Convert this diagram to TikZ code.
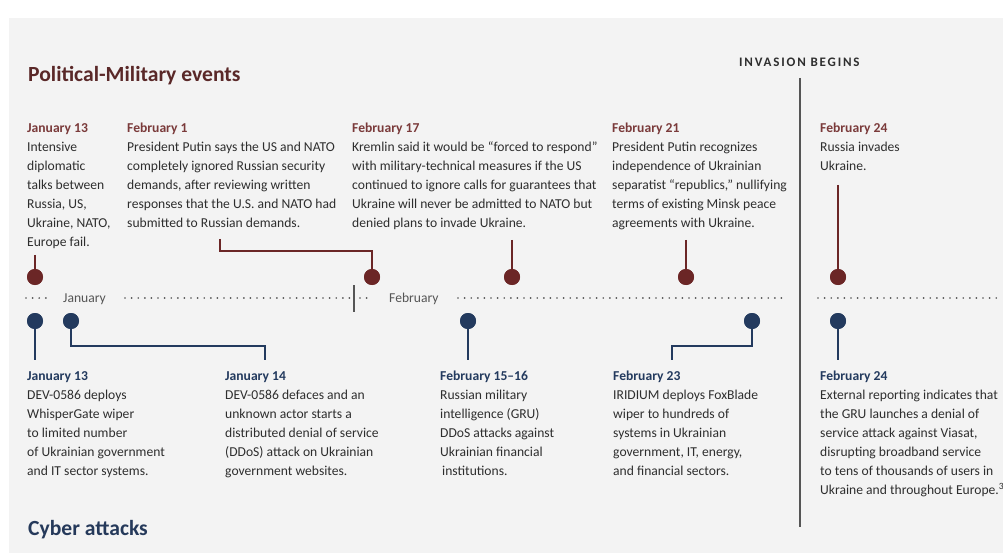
\documentclass[tikz,border=0pt]{standalone}
\usepackage{fontspec}
\setmainfont{Carlito}
\newfontfamily\spacedfont[LetterSpace=14]{Carlito}
\definecolor{panel}{HTML}{F3F3F3}
\definecolor{maroonhead}{HTML}{7A3A3A}
\definecolor{maroondot}{HTML}{6B2626}
\definecolor{maroontitle}{HTML}{5A2828}
\definecolor{navy}{HTML}{233A5E}
\definecolor{navytitle}{HTML}{25395A}
\definecolor{bodygray}{HTML}{2E2E2E}
\definecolor{axisgray}{HTML}{555555}
\newcommand{\bodyfont}{\fontsize{13.6}{19}\selectfont}
\newcommand{\pmh}[1]{\rule{0pt}{11pt}{\color{maroonhead}\bfseries #1}}
\newcommand{\cyh}[1]{\rule{0pt}{11pt}{\color{navy}\bfseries #1}}
\begin{document}
\begin{tikzpicture}[x=1pt,y=-1pt,
  txt/.style={anchor=north west,inner sep=0pt,align=left,font=\bodyfont,text=bodygray},
  title/.style={anchor=base west,inner sep=0pt,font=\fontsize{21.6}{26}\selectfont\bfseries},
  pmdot/.style={circle,fill=maroondot,inner sep=0pt,minimum size=16pt},
  cydot/.style={circle,fill=navy,inner sep=0pt,minimum size=16pt},
  pmline/.style={draw=maroondot,line width=2pt},
  cyline/.style={draw=navy,line width=2pt},
  dotline/.style={draw=axisgray,line width=1.9pt,line cap=round,dash pattern=on 0pt off 6.6pt},
  month/.style={anchor=base west,inner sep=0pt,font=\bodyfont,text=axisgray}]
\useasboundingbox (0,0) rectangle (1003,553);
\fill[white] (0,0) rectangle (1003,553);
\fill[panel] (9,18) rectangle (1003,553);

% titles
\node[title,text=maroontitle] (pmtitle) at (28,82) {Political-Military events};
\node[title,text=navytitle] (cytitle) at (28,535) {Cyber attacks};
\node[anchor=base west,inner sep=0pt,font=\spacedfont\fontsize{13}{15}\selectfont\bfseries,text=bodygray] (inv) at (739,66.5) {INVASION BEGINS};
\coordinate (invtop) at (800,78);
\coordinate (invbot) at (800,527);
\draw[axisgray,line width=2pt] (invtop) -- (invbot);

% political-military texts
\node[txt] (p1) at (27,121.5) {\pmh{January 13}\\Intensive\\diplomatic\\talks between\\Russia, US,\\Ukraine, NATO,\\Europe fail.};
\node[txt] (p2) at (127,121.5) {\pmh{February 1}\\President Putin says the US and NATO\\completely ignored Russian security\\demands, after reviewing written\\responses that the U.S. and NATO had\\submitted to Russian demands.};
\node[txt] (p3) at (352,121.5) {\pmh{February 17}\\Kremlin said it would be “forced to respond”\\with military-technical measures if the US\\continued to ignore calls for guarantees that\\Ukraine will never be admitted to NATO but\\denied plans to invade Ukraine.};
\node[txt] (p4) at (612,121.5) {\pmh{February 21}\\President Putin recognizes\\independence of Ukrainian\\separatist “republics,” nullifying\\terms of existing Minsk peace\\agreements with Ukraine.};
\node[txt] (p5) at (820,121.5) {\pmh{February 24}\\Russia invades\\Ukraine.};

% cyber texts
\node[txt] (c1) at (27,369.5) {\cyh{January 13}\\DEV-0586 deploys\\WhisperGate wiper\\to limited number\\of Ukrainian government\\and IT sector systems.};
\node[txt] (c2) at (225,369.5) {\cyh{January 14}\\DEV-0586 defaces and an\\unknown actor starts a\\distributed denial of service\\(DDoS) attack on Ukrainian\\government websites.};
\node[txt] (c3) at (440,369.5) {\cyh{February 15–16}\\Russian military\\intelligence (GRU)\\DDoS attacks against\\Ukrainian financial\\\hspace*{2pt}institutions.};
\node[txt] (c4) at (613,369.5) {\cyh{February 23}\\IRIDIUM deploys FoxBlade\\wiper to hundreds of\\systems in Ukrainian\\government, IT, energy,\\and financial sectors.};
\node[txt] (c5) at (820,369.5) {\cyh{February 24}\\External reporting indicates that\\the GRU launches a denial of\\service attack against Viasat,\\disrupting broadband service\\to tens of thousands of users in\\Ukraine and throughout Europe.\textsuperscript{3}};

% timeline axis
\node[month] (jan) at (63,302) {January};
\node[month] (feb) at (389,302) {February};
\coordinate (a0) at (26,298); \coordinate (a1) at (47,298);
\coordinate (a2) at (125,298); \coordinate (a3) at (350,298);
\coordinate (a4) at (360,298); \coordinate (a5) at (373,298);
\coordinate (a6) at (458,298); \coordinate (a7) at (783,298);
\coordinate (a8) at (818,298); \coordinate (a9) at (1000,298);
\draw[dotline] (a0) -- (a1);
\draw[dotline] (a2) -- (a3);
\draw[dotline] (a4) -- (a5);
\draw[dotline] (a6) -- (a7);
\draw[dotline] (a8) -- (a9);
\coordinate (tk1) at (354,285); \coordinate (tk2) at (354,312);
\draw[axisgray,line width=2pt] (tk1) -- (tk2);

% political-military dots and stems
\node[pmdot] (pd1) at (35,277) {};
\node[pmdot] (pd2) at (372,277) {};
\node[pmdot] (pd3) at (512,277) {};
\node[pmdot] (pd4) at (686,277) {};
\node[pmdot] (pd5) at (838,277) {};
\coordinate (ps1) at (35,255);
\coordinate (ps2) at (220,239);
\coordinate (ps3) at (512,240);
\coordinate (ps4) at (686,240);
\coordinate (ps5) at (838,185);
\draw[pmline] (ps1) -- (pd1.center);
\draw[pmline] (ps2) |- (372,251) -- (pd2.center);
\draw[pmline] (ps3) -- (pd3.center);
\draw[pmline] (ps4) -- (pd4.center);
\draw[pmline] (ps5) -- (pd5.center);
\node[pmdot] at (pd1) {};
\node[pmdot] at (pd2) {};
\node[pmdot] at (pd3) {};
\node[pmdot] at (pd4) {};
\node[pmdot] at (pd5) {};

% cyber dots and stems
\node[cydot] (cd1) at (35,321) {};
\node[cydot] (cd2) at (71,321) {};
\node[cydot] (cd3) at (468,321) {};
\node[cydot] (cd4) at (752,321) {};
\node[cydot] (cd5) at (838,321) {};
\coordinate (cs1) at (35,360);
\coordinate (cs2) at (265,360);
\coordinate (cs3) at (468,360);
\coordinate (cs4) at (672,360);
\coordinate (cs5) at (838,360);
\draw[cyline] (cd1.center) -- (cs1);
\draw[cyline] (cd2.center) |- (265,346) -- (cs2);
\draw[cyline] (cd3.center) -- (cs3);
\draw[cyline] (cd4.center) |- (672,346) -- (cs4);
\draw[cyline] (cd5.center) -- (cs5);
\node[cydot] at (cd1) {};
\node[cydot] at (cd2) {};
\node[cydot] at (cd3) {};
\node[cydot] at (cd4) {};
\node[cydot] at (cd5) {};
\end{tikzpicture}
\end{document}
